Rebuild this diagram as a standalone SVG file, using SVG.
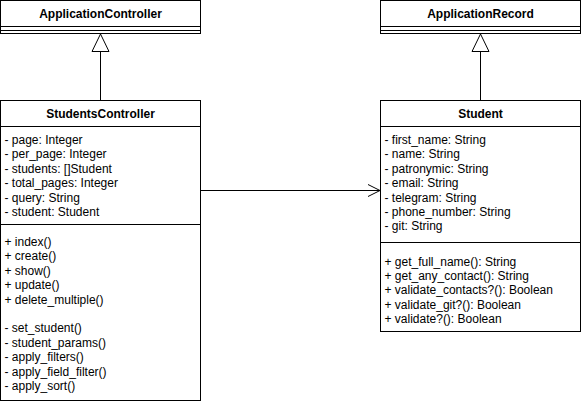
<svg xmlns="http://www.w3.org/2000/svg" width="582" height="404" viewBox="0 0 582 404">
  <style>
    .box { fill: #ffffff; stroke: #000000; stroke-width: 1; }
    .sep { stroke: #000000; stroke-width: 1; fill: none; }
    .title { font-family: "Liberation Sans", Arial, Helvetica, sans-serif; font-size: 12px; font-weight: bold; fill: #000000; text-anchor: middle; }
    .item { font-family: "Liberation Sans", Arial, Helvetica, sans-serif; font-size: 12px; fill: #000000; }
    .edge { stroke: #000000; stroke-width: 1; fill: none; }
    .inherit { fill: #ffffff; stroke: #000000; stroke-width: 1; }
  </style>
  <defs>
    <marker id="open-arrow" markerWidth="14" markerHeight="14" refX="13" refY="7" orient="auto" markerUnits="userSpaceOnUse">
      <path d="M1,1 L13,7 L1,13" fill="none" stroke="#000000" stroke-width="1"/>
    </marker>
  </defs>

  <!-- ApplicationController -->
  <g id="application-controller">
    <rect class="box" x="0.5" y="0.5" width="200" height="33"/>
    <line class="sep" x1="0.5" y1="26.5" x2="200.5" y2="26.5"/>
    <line class="sep" x1="0.5" y1="30.5" x2="200.5" y2="30.5"/>
    <text class="title" x="100.5" y="17.5">ApplicationController</text>
  </g>

  <!-- ApplicationRecord -->
  <g id="application-record">
    <rect class="box" x="380.5" y="0.5" width="200" height="33"/>
    <line class="sep" x1="380.5" y1="26.5" x2="580.5" y2="26.5"/>
    <line class="sep" x1="380.5" y1="30.5" x2="580.5" y2="30.5"/>
    <text class="title" x="480.5" y="17.5">ApplicationRecord</text>
  </g>

  <!-- StudentsController -->
  <g id="students-controller">
    <rect class="box" x="0.5" y="100.5" width="200" height="300"/>
    <line class="sep" x1="0.5" y1="126.5" x2="200.5" y2="126.5"/>
    <line class="sep" x1="0.5" y1="224.5" x2="200.5" y2="224.5"/>
    <text class="title" x="100.5" y="117.5">StudentsController</text>
    <text class="item" x="4.5">
      <tspan x="4.5" y="144">- page: Integer</tspan>
      <tspan x="4.5" y="158.4">- per_page: Integer</tspan>
      <tspan x="4.5" y="172.8">- students: []Student</tspan>
      <tspan x="4.5" y="187.2">- total_pages: Integer</tspan>
      <tspan x="4.5" y="201.6">- query: String</tspan>
      <tspan x="4.5" y="216">- student: Student</tspan>
    </text>
    <text class="item" x="4.5">
      <tspan x="4.5" y="246">+ index()</tspan>
      <tspan x="4.5" y="260.4">+ create()</tspan>
      <tspan x="4.5" y="274.8">+ show()</tspan>
      <tspan x="4.5" y="289.2">+ update()</tspan>
      <tspan x="4.5" y="303.6">+ delete_multiple()</tspan>
      <tspan x="4.5" y="332.4">- set_student()</tspan>
      <tspan x="4.5" y="346.8">- student_params()</tspan>
      <tspan x="4.5" y="361.2">- apply_filters()</tspan>
      <tspan x="4.5" y="375.6">- apply_field_filter()</tspan>
      <tspan x="4.5" y="390">- apply_sort()</tspan>
    </text>
  </g>

  <!-- Student -->
  <g id="student">
    <rect class="box" x="380.5" y="100.5" width="200" height="231"/>
    <line class="sep" x1="380.5" y1="126.5" x2="580.5" y2="126.5"/>
    <line class="sep" x1="380.5" y1="242.5" x2="580.5" y2="242.5"/>
    <text class="title" x="480.5" y="117.5">Student</text>
    <text class="item" x="384.5">
      <tspan x="384.5" y="144">- first_name: String</tspan>
      <tspan x="384.5" y="158.4">- name: String</tspan>
      <tspan x="384.5" y="172.8">- patronymic: String</tspan>
      <tspan x="384.5" y="187.2">- email: String</tspan>
      <tspan x="384.5" y="201.6">- telegram: String</tspan>
      <tspan x="384.5" y="216">- phone_number: String</tspan>
      <tspan x="384.5" y="230.4">- git: String</tspan>
    </text>
    <text class="item" x="384.5">
      <tspan x="384.5" y="265.5">+ get_full_name(): String</tspan>
      <tspan x="384.5" y="279.9">+ get_any_contact(): String</tspan>
      <tspan x="384.5" y="294.3">+ validate_contacts?(): Boolean</tspan>
      <tspan x="384.5" y="308.7">+ validate_git?(): Boolean</tspan>
      <tspan x="384.5" y="323.1">+ validate?(): Boolean</tspan>
    </text>
  </g>

  <!-- Connectors -->
  <g id="connectors">
    <!-- StudentsController extends ApplicationController -->
    <line class="edge" x1="100.5" y1="100" x2="100.5" y2="51.5"/>
    <path class="inherit" d="M100.5,34 L109,51.5 L92,51.5 Z"/>
    <!-- Student extends ApplicationRecord -->
    <line class="edge" x1="480.5" y1="100" x2="480.5" y2="51.5"/>
    <path class="inherit" d="M480.5,34 L489,51.5 L472,51.5 Z"/>
    <!-- StudentsController uses Student -->
    <line class="edge" x1="200.5" y1="190.5" x2="380" y2="190.5" marker-end="url(#open-arrow)"/>
  </g>
</svg>
